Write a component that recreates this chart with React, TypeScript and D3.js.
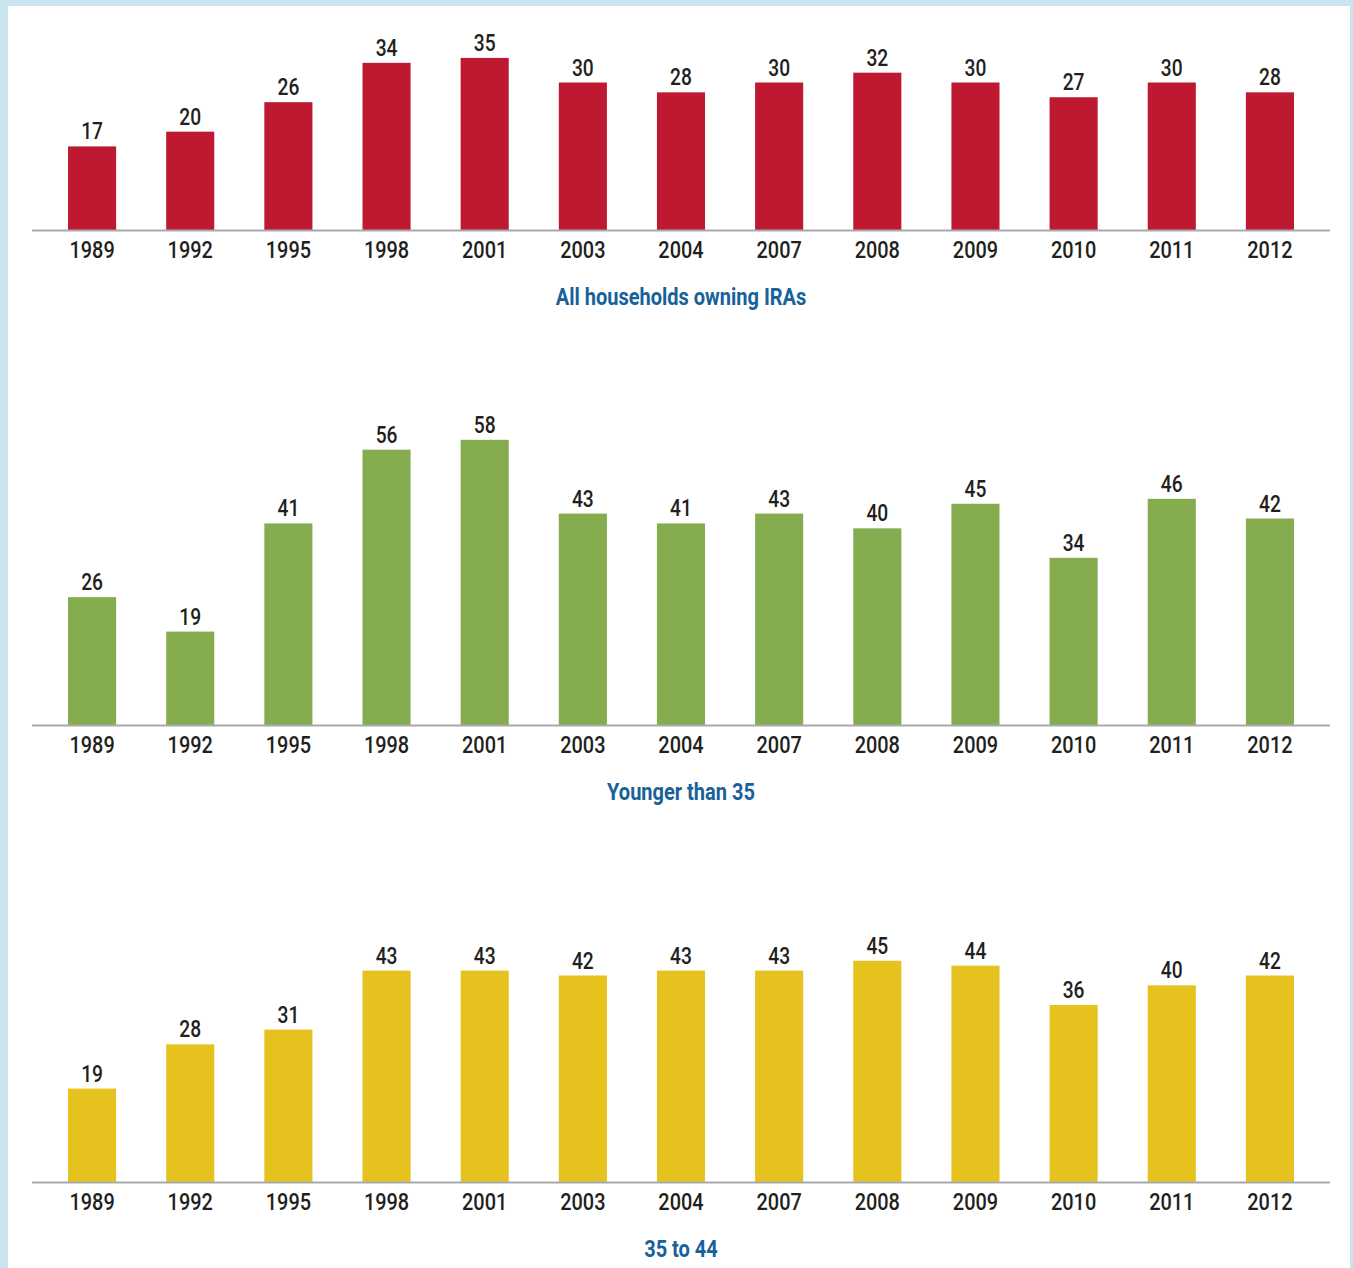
import React, { useEffect } from 'react';
import * as d3 from 'd3';

const years = ['1989', '1992', '1995', '1998', '2001', '2003', '2004', '2007', '2008', '2009', '2010', '2011', '2012'];
const allHouseholds = [17, 20, 26, 34, 35, 30, 28, 30, 32, 30, 27, 30, 28];
const youngerThan35 = [26, 19, 41, 56, 58, 43, 41, 43, 40, 45, 34, 46, 42];
const age35to44 = [19, 28, 31, 43, 43, 42, 43, 43, 45, 44, 36, 40, 42];

const panels = [
  { title: 'All households owning IRAs', values: allHouseholds, color: '#be1931', axisY: 230 },
  { title: 'Younger than 35', values: youngerThan35, color: '#86ac50', axisY: 725 },
  { title: '35 to 44', values: age35to44, color: '#e6c21f', axisY: 1182 },
];

const W = 1353;
const H = 1268;
const FONT = 'Roboto, "DejaVu Sans", sans-serif';

const x = d3.scaleBand<string>()
  .domain(years)
  .range([43, 1319])
  .paddingInner(0.51)
  .paddingOuter(0.255);

// bar height in px per percentage point
const h = d3.scaleLinear().domain([0, 60]).range([0, 295]);

// the source uses a narrow face; squeeze Roboto horizontally
const Narrow = ({ x, y, size, weight = 500, fill = '#231f20', squeeze = 0.82, children }:
  { x: number; y: number; size: number; weight?: number; fill?: string; squeeze?: number; children: React.ReactNode }) => (
  <text
    transform={`translate(${x},${y}) scale(${squeeze},1)`}
    textAnchor="middle"
    fontSize={size}
    fontWeight={weight}
    fill={fill}
  >
    {children}
  </text>
);

const Panel = ({ title, values, color, axisY }: { title: string; values: number[]; color: string; axisY: number }) => (
  <g>
    {values.map((v, i) => (
      <g key={years[i]}>
        <rect x={x(years[i])} y={axisY - h(v)} width={x.bandwidth()} height={h(v)} fill={color} />
        <Narrow x={(x(years[i]) as number) + x.bandwidth() / 2} y={axisY - h(v) - 7} size={24} squeeze={0.8}>
          {v}
        </Narrow>
      </g>
    ))}
    <line x1={32} x2={1330} y1={axisY + 0.5} y2={axisY + 0.5} stroke="#a7a9ac" strokeWidth={2} />
    {years.map((yr) => (
      <Narrow key={yr} x={(x(yr) as number) + x.bandwidth() / 2} y={axisY + 28} size={24} squeeze={0.83}>
        {yr}
      </Narrow>
    ))}
    <Narrow x={681} y={axisY + 75} size={23} weight={700} fill="#17629a" squeeze={0.87}>
      {title}
    </Narrow>
  </g>
);

export default function App() {
  useEffect(() => {
    document.body.style.margin = '0';
  }, []);

  return (
    <svg width={W} height={H} style={{ position: 'absolute', left: 0, top: 0, fontFamily: FONT }}>
      <rect x={0} y={0} width={W} height={H} fill="#c9e3ef" />
      <rect x={8} y={6} width={1342} height={H - 6} fill="#ffffff" />
      {panels.map((p) => (
        <Panel key={p.title} {...p} />
      ))}
    </svg>
  );
}
